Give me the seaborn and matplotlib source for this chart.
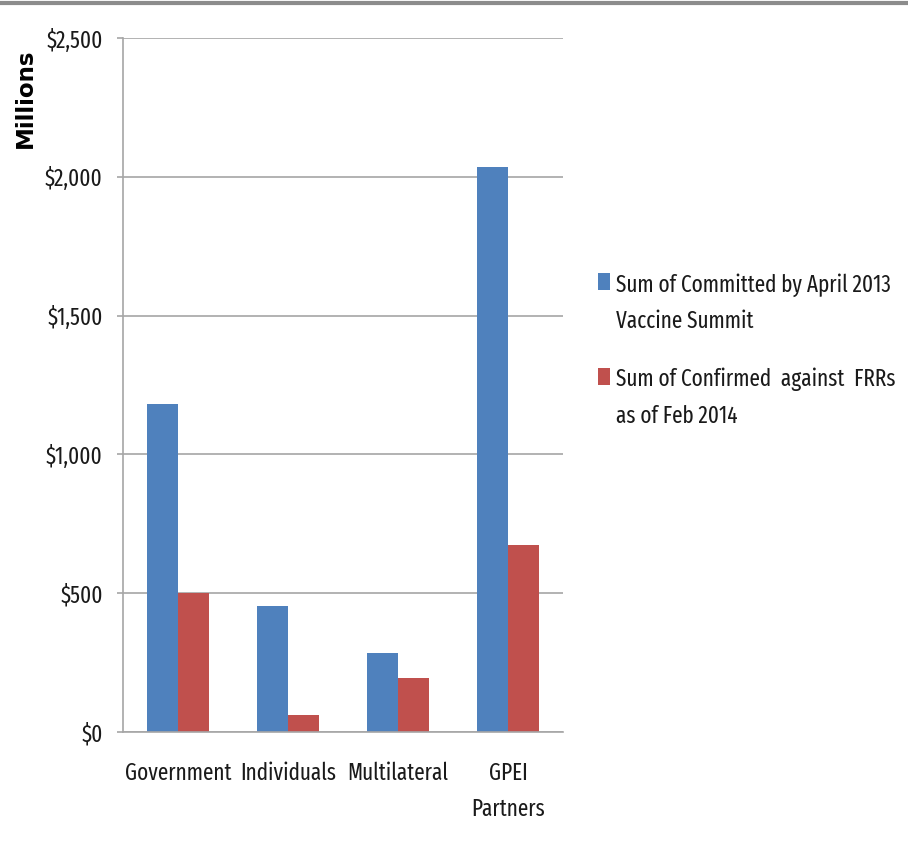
import pandas as pd
import matplotlib
matplotlib.use('Agg')
import matplotlib.pyplot as plt
from matplotlib import font_manager
from matplotlib.lines import Line2D
from matplotlib.ticker import FuncFormatter, FixedLocator
import seaborn as sns

# data (US$ millions)
categories = ['Government', 'Individuals', 'Multilateral', 'GPEI\nPartners']
committed = [1181, 453, 286, 2036]
confirmed = [499, 61, 195, 675]
series_names = ['Sum of Committed by April 2013\nVaccine Summit',
                'Sum of Confirmed  against  FRRs\nas of Feb 2014']
series_colors = ['#4F81BD', '#C0504D']
y_ticks = [0, 500, 1000, 1500, 2000, 2500]

df = pd.DataFrame({
    'category': categories * 2,
    'series': [series_names[0]] * len(categories) + [series_names[1]] * len(categories),
    'value': committed + confirmed,
})

# narrow humanist sans, close to the squeezed Calibri of the original
installed = {f.name for f in font_manager.fontManager.ttflist}
font = 'DejaVu Sans'
for cand in ['Fira Sans Extra Condensed', 'Roboto Condensed', 'PT Sans Narrow',
             'Fira Sans Condensed', 'Archivo Narrow', 'Carlito', 'Lato']:
    if cand in installed:
        font = cand
        break

sns.set_style('white')
plt.rcParams['font.family'] = [font, 'DejaVu Sans']
grid_col = '#a6a6a6'
text_col = '#1a1a1a'

fig = plt.figure(figsize=(9.08, 8.46), dpi=100)

# pick the size so "Government" is ~107 px wide, as in the reference
renderer = fig.canvas.get_renderer()
probe = fig.text(0, 0, 'Government', fontsize=20)
fs = 20 * 107 / probe.get_window_extent(renderer).width
probe.remove()

ax = fig.add_axes([123 / 908, 1 - 732 / 846, 440 / 908, 694 / 846])

sns.barplot(data=df, x='category', y='value', hue='series', order=categories,
            hue_order=series_names, palette=series_colors, saturation=1,
            width=0.57, gap=0, edgecolor='none', linewidth=0, ax=ax)

ax.set_xlim(-0.5, len(categories) - 0.5)
ax.set_ylim(0, 2500)
ax.set_yticks(y_ticks)
ax.yaxis.set_major_formatter(FuncFormatter(lambda v, p: f'${v:,.0f}'))
ax.yaxis.grid(True, color=grid_col, lw=1.2)
ax.set_axisbelow(True)

# category separators as x ticks
ax.xaxis.set_minor_locator(FixedLocator([i - 0.5 for i in range(len(categories) + 1)]))
ax.tick_params(axis='x', which='major', length=0, pad=21, labelsize=fs, colors=text_col)
ax.tick_params(axis='x', which='minor', length=8, width=1.2, color=grid_col)
ax.tick_params(axis='y', length=4.5, width=1.2, color=grid_col, pad=10,
               labelsize=fs, labelcolor=text_col, left=True)
for lbl in ax.get_xticklabels():
    lbl.set_linespacing(1.72)

for s in ['top', 'right']:
    ax.spines[s].set_visible(False)
for s in ['left', 'bottom']:
    ax.spines[s].set_color(grid_col)
    ax.spines[s].set_linewidth(1.2)

ax.set_xlabel('')
ax.set_ylabel('Millions', fontsize=16.5, fontweight='bold', family='DejaVu Sans', color='black')
ax.yaxis.set_label_coords(-0.195, 0.913)

leg_fs = fs
handles, labels = ax.get_legend_handles_labels()
ax.legend_.remove()
leg = fig.legend(handles, labels, loc='upper left', bbox_to_anchor=(598 / 908, 1 - 273 / 846),
                 frameon=False, fontsize=leg_fs, handlelength=12 / (leg_fs * 100 / 72),
                 handleheight=18 / (leg_fs * 100 / 72), handletextpad=0.25,
                 labelspacing=1.5, borderpad=0, borderaxespad=0)
for t in leg.get_texts():
    t.set_linespacing(1.72)
    t.set_color(text_col)
try:
    for col in leg._legend_handle_box.get_children():
        for item in col.get_children():
            item.align = 'top'
except AttributeError:
    pass

# grey rule across the top of the slide
fig.add_artist(Line2D([0, 1], [1 - 3 / 846] * 2, transform=fig.transFigure,
                      color='#8c8c8c', lw=3))

fig.savefig('out.png', dpi=100)
